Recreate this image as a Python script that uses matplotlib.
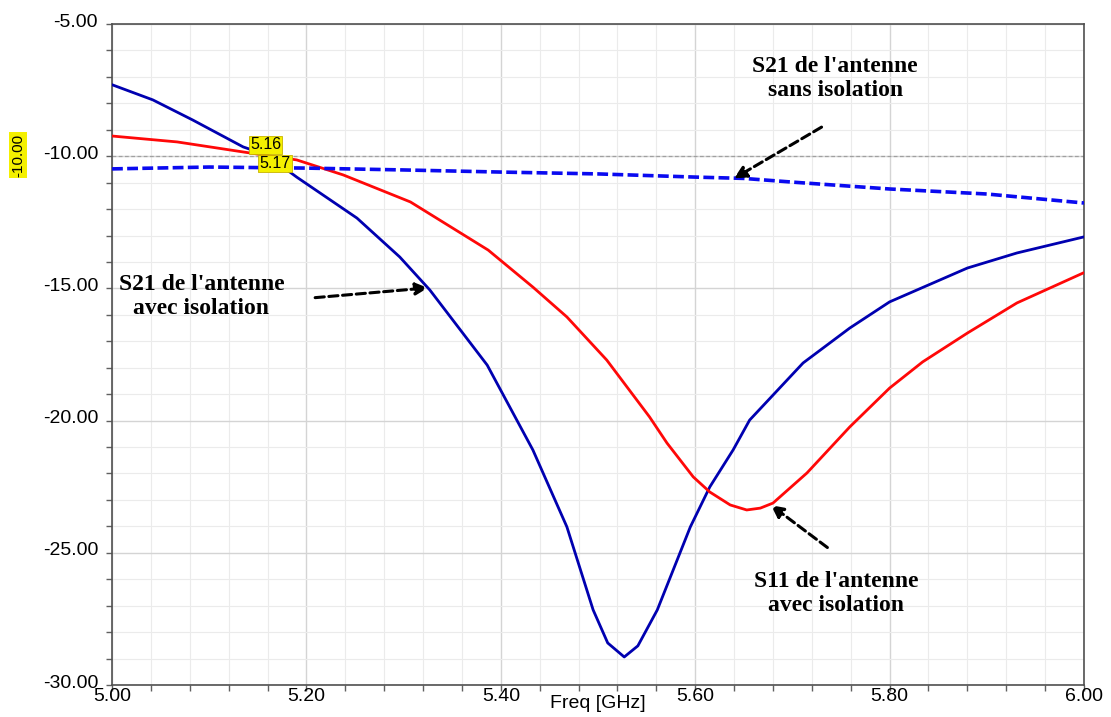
import matplotlib.pyplot as plt
import matplotlib.transforms as mtransforms
import numpy as np

# --- Données ---
freq_s21_avec = [5.001, 5.042, 5.083, 5.135, 5.159, 5.190, 5.252, 5.296, 5.327, 5.386, 5.433, 5.468,
                 5.495, 5.510, 5.527, 5.541, 5.561, 5.595, 5.615, 5.639, 5.656, 5.711, 5.759, 5.800,
                 5.880, 5.931, 5.999]
s21_avec = [-7.31, -7.87, -8.63, -9.65, -9.95, -10.79, -12.34, -13.81, -15.06, -17.90, -21.11, -24.02,
            -27.16, -28.41, -28.94, -28.52, -27.16, -24.02, -22.51, -21.11, -19.98, -17.82, -16.50, -15.51,
            -14.23, -13.66, -13.06]

freq_s11 = [5.001, 5.067, 5.135, 5.190, 5.238, 5.307, 5.387, 5.433, 5.468, 5.509, 5.553, 5.571, 5.598,
            5.615, 5.636, 5.653, 5.667, 5.680, 5.715, 5.759, 5.800, 5.834, 5.880, 5.931, 5.999]
s11_avec = [-9.24, -9.46, -9.84, -10.14, -10.71, -11.73, -13.55, -14.95, -16.08, -17.71, -19.86, -20.85, -22.13,
            -22.70, -23.19, -23.38, -23.31, -23.12, -21.98, -20.24, -18.77, -17.78, -16.69, -15.55, -14.42]

freq_s21_sans = [5.00, 5.10, 5.20, 5.30, 5.40, 5.50, 5.60, 5.65, 5.70, 5.80, 5.90, 6.00]
s21_sans = [-10.48, -10.41, -10.45, -10.52, -10.6, -10.67, -10.79, -10.84, -10.98, -11.24, -11.43, -11.77]

x_ticks = [5.00, 5.20, 5.40, 5.60, 5.80, 6.00]
y_ticks = [-30, -25, -20, -15, -10, -5]

plt.rcParams['font.family'] = ['Liberation Sans', 'DejaVu Sans']

fig = plt.figure(figsize=(11.11, 7.17), dpi=100)
ax = fig.add_axes([112 / 1111, 1 - 685 / 717, 972 / 1111, 661 / 717])

ax.plot(freq_s21_avec, s21_avec, color='#0000b0', lw=2, zorder=3)
ax.plot(freq_s11, s11_avec, color='#ff0808', lw=2, zorder=3)
ax.plot(freq_s21_sans, s21_sans, color='#0a0af0', lw=2.6, ls=(0, (3, 1.2)), zorder=3)

# ligne du marqueur à -10 dB
ax.axhline(-10, color='#a0a0a0', lw=0.9, ls=(0, (3, 2)), zorder=2)

ax.set_xlim(5.0, 6.0)
ax.set_ylim(-30, -5)
ax.set_xticks(x_ticks)
ax.set_yticks(y_ticks)
ax.set_xticklabels([f"{v:.2f}" for v in x_ticks], fontsize=14)
ax.set_yticklabels([f"{v:.2f}" for v in y_ticks], fontsize=14)
ax.set_xticks(np.arange(5.0, 6.001, 0.04), minor=True)
ax.set_yticks(np.arange(-30, -4.99, 1), minor=True)
ax.grid(True, which='minor', color='#ebebeb', lw=0.8, zorder=0)
ax.grid(True, which='major', color='#d4d4d4', lw=1.0, zorder=0)
ax.tick_params(which='both', direction='out', length=4, color='#606060', width=1)
ax.tick_params(axis='x', pad=-2)
ax.tick_params(axis='y', pad=6)
for s in ax.spines.values():
    s.set_color('#505050')
    s.set_linewidth(1.2)

# étiquettes de l'axe y légèrement relevées
shift = mtransforms.ScaledTranslation(0, 4 / 100, fig.dpi_scale_trans)
for lab in ax.get_yticklabels():
    lab.set_transform(lab.get_transform() + shift)

fig.text(598 / 1111, 1 - 703 / 717, "Freq [GHz]", fontsize=14, ha='center', va='center')

# marqueurs
box = dict(boxstyle='square,pad=0.08', fc='#f4f000', ec='#c8b400', lw=0.6)
ax.text(5.158, -9.57, "5.16", fontsize=11.5, ha='center', va='center', bbox=box, zorder=5)
ax.text(5.168, -10.28, "5.17", fontsize=11.5, ha='center', va='center', bbox=box, zorder=5)
fig.text(18 / 1111, 1 - 155 / 717, "-10.00", fontsize=11, rotation=90, ha='center', va='center',
         bbox=dict(boxstyle='square,pad=0.1', fc='#f4f000', ec='none'))

# annotations
note = dict(fontsize=17, fontweight='bold', family='Liberation Serif', ha='center', va='center',
            linespacing=1.2)
arrow = dict(arrowstyle='-|>', color='black', lw=2.2, ls=(0, (3, 1.5)), mutation_scale=18,
             shrinkA=0, shrinkB=0)
ax.text(5.744, -7.05, "S21 de l'antenne\nsans isolation", **note)
ax.annotate("", xy=(5.640, -10.84), xytext=(5.730, -8.9), arrowprops=arrow)
ax.text(5.092, -15.3, "S21 de l'antenne\navec isolation", **note)
ax.annotate("", xy=(5.325, -14.98), xytext=(5.209, -15.35), arrowprops=arrow)
ax.text(5.745, -26.55, "S11 de l'antenne\navec isolation", **note)
ax.annotate("", xy=(5.678, -23.2), xytext=(5.736, -24.8), arrowprops=arrow)

fig.savefig("out.png", dpi=100)
